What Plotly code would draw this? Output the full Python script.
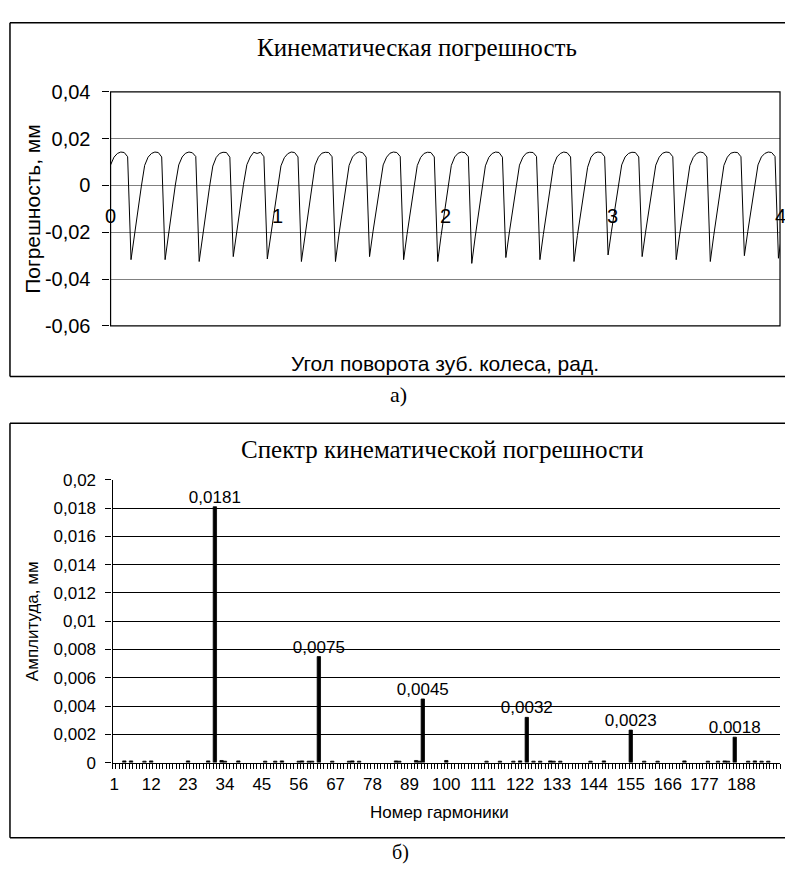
import plotly.graph_objects as go

# ---------------- data ----------------
# Kinematic error (mm), sampled along the gear rotation angle
angle_step = 0.02036  # rad between samples
kin_error = [
    0.0088, 0.0121, 0.0137, 0.0143, 0.0141, 0.0123,
    -0.0317, -0.0210, -0.0112, -0.0006, 0.0086, 0.0121, 0.0137, 0.0143, 0.0141, 0.0122,
    -0.0317, -0.0208, -0.0105, 0.0002, 0.0088, 0.0122, 0.0138, 0.0143, 0.0140, 0.0124,
    -0.0325, -0.0215, -0.0118, -0.0010, 0.0083, 0.0120, 0.0137, 0.0142, 0.0141, 0.0121,
    -0.0304, -0.0200, -0.0100, 0.0004, 0.0089, 0.0122, 0.0142, 0.0137, 0.0142, 0.0123,
    -0.0314, -0.0207, -0.0110, -0.0015, 0.0084, 0.0119, 0.0136, 0.0143, 0.0141, 0.0122,
    -0.0325, -0.0218, -0.0115, -0.0004, 0.0087, 0.0121, 0.0138, 0.0142, 0.0141, 0.0123,
    -0.0325, -0.0212, -0.0109, -0.0002, 0.0086, 0.0122, 0.0137, 0.0144, 0.0140, 0.0121,
    -0.0304, -0.0198, -0.0103, 0.0003, 0.0088, 0.0121, 0.0138, 0.0143, 0.0141, 0.0124,
    -0.0317, -0.0209, -0.0111, -0.0005, 0.0085, 0.0120, 0.0137, 0.0142, 0.0141, 0.0122,
    -0.0325, -0.0214, -0.0114, -0.0006, 0.0086, 0.0122, 0.0138, 0.0143, 0.0140, 0.0123,
    -0.0333, -0.0220, -0.0120, -0.0008, 0.0084, 0.0120, 0.0137, 0.0143, 0.0141, 0.0121,
    -0.0308, -0.0203, -0.0104, 0.0001, 0.0087, 0.0121, 0.0138, 0.0142, 0.0141, 0.0124,
    -0.0317, -0.0210, -0.0110, -0.0004, 0.0086, 0.0122, 0.0137, 0.0143, 0.0140, 0.0122,
    -0.0325, -0.0214, -0.0113, -0.0007, 0.0078, 0.0121, 0.0138, 0.0143, 0.0141, 0.0123,
    -0.0297, -0.0195, -0.0098, 0.0003, 0.0088, 0.0122, 0.0137, 0.0142, 0.0141, 0.0122,
    -0.0304, -0.0200, -0.0102, 0.0002, 0.0087, 0.0121, 0.0138, 0.0143, 0.0141, 0.0123,
    -0.0317, -0.0211, -0.0111, -0.0005, 0.0085, 0.0120, 0.0137, 0.0143, 0.0140, 0.0122,
    -0.0325, -0.0215, -0.0116, -0.0007, 0.0086, 0.0121, 0.0138, 0.0142, 0.0141, 0.0123,
    -0.0300, -0.0197, -0.0100, 0.0004, 0.0088, 0.0122, 0.0137, 0.0143, 0.0141, 0.0124,
    -0.0311, -0.0205,
]
angle = [i * angle_step for i in range(len(kin_error))]

err_tickvals = [-0.06, -0.04, -0.02, 0, 0.02, 0.04]
err_ticktext = ["-0,06", "-0,04", "-0,02", "0", "0,02", "0,04"]
angle_ticks = [0, 1, 2, 3, 4]

# Spectrum (mm) by harmonic number
spike_harmonics = [31, 62, 93, 124, 155, 186]
spike_amplitudes = [0.0181, 0.0075, 0.0045, 0.0032, 0.0023, 0.0018]
minor_harmonics = [4, 6, 10, 12, 23, 29, 33, 34, 38, 46, 49, 51, 56, 57, 59, 60,
                   66, 71, 72, 74, 85, 86, 91, 92, 100, 112, 116, 120, 122, 126,
                   128, 131, 132, 134, 143, 147, 159, 163, 171, 178, 181, 183,
                   184, 190, 192, 194, 196]
minor_amplitudes = [0.00012, 0.00012, 0.0001, 0.00012, 0.00012, 0.00012, 0.00015,
                    0.0001, 0.00012, 0.0001, 0.0001, 0.00012, 0.0001, 0.00012,
                    0.0001, 0.0001, 0.0001, 0.0001, 0.00012, 0.0001, 0.00012,
                    0.0001, 0.00015, 0.0001, 0.00015, 0.0001, 0.0001, 0.0001,
                    0.00012, 0.0001, 0.0001, 0.00012, 0.0001, 0.0001, 0.0001,
                    0.00012, 0.0001, 0.0001, 0.00012, 0.0001, 0.0001, 0.00012,
                    0.0001, 0.0001, 0.00012, 0.0001, 0.0001]
harmonic_ticks = [1, 12, 23, 34, 45, 56, 67, 78, 89, 100, 111, 122, 133, 144,
                  155, 166, 177, 188, 199]
amp_ticks = [0, 0.002, 0.004, 0.006, 0.008, 0.01, 0.012, 0.014, 0.016, 0.018, 0.02]

# ---------------- layout helpers ----------------
W, H = 785, 874
def px(x):
    return x / W
def py(y):
    return 1 - y / H

SANS = "Liberation Sans, Arial, sans-serif"
SERIF = "Liberation Serif, Times New Roman, serif"

top_ydom = [py(323), py(83)]
top_xdom = [px(108), px(780)]
bot_ydom = [py(771), py(481)]
bot_xdom = [px(110), px(780)]
err_range = [-0.06, 0.04]
zero_pos = top_ydom[0] + (0 - err_range[0]) / (err_range[1] - err_range[0]) * (top_ydom[1] - top_ydom[0])

fig = go.Figure()

fig.add_trace(go.Scatter(
    x=angle, y=kin_error, mode="lines",
    line=dict(color="black", width=1),
    xaxis="x", yaxis="y", hoverinfo="skip",
))

def fmt(v):
    return f"{v:.4f}".replace(".", ",")

fig.add_trace(go.Bar(
    x=spike_harmonics, y=spike_amplitudes,
    text=[fmt(v) for v in spike_amplitudes],
    textposition="outside", constraintext="none", cliponaxis=False,
    textfont=dict(family=SANS, size=17, color="black"),
    marker=dict(color="black", line=dict(color="black", width=0.8)),
    width=1.0, xaxis="x2", yaxis="y2",
))
fig.add_trace(go.Bar(
    x=minor_harmonics, y=minor_amplitudes,
    marker=dict(color="black", line=dict(color="black", width=0.8)),
    width=1.0, xaxis="x2", yaxis="y2",
))

# Outer frames: their right side lies beyond the picture, so only draw top, left, bottom
FRAME = dict(color="black", width=1.5)
def hline(x0, x1, y):
    return dict(type="line", xref="paper", yref="paper", x0=px(x0), x1=px(x1),
                y0=py(y), y1=py(y), line=FRAME, layer="above")
def vline(x, y0, y1):
    return dict(type="line", xref="paper", yref="paper", x0=px(x), x1=px(x),
                y0=py(y0), y1=py(y1), line=FRAME, layer="above")

shapes = [
    hline(7, 785, 12), hline(7, 785, 375), vline(7, 12, 375),
    hline(7, 785, 423), hline(7, 785, 848), vline(7, 423, 848),
    dict(type="rect", xref="x domain", yref="y domain", x0=0, x1=1, y0=0, y1=1,
         line=dict(color="black", width=1.2), layer="above"),
]

def ann(text, x, y, size, family, angle=0):
    return dict(text=text, x=px(x), y=py(y), xref="paper", yref="paper",
                xanchor="center", yanchor="middle", showarrow=False,
                textangle=angle, font=dict(family=family, size=size, color="black"))

annotations = [
    ann("Кинематическая погрешность", 416, 37, 25, SERIF),
    ann("Погрешность, мм", 30, 203, 21, SANS, -90),
    ann("Угол поворота зуб. колеса, рад.", 444, 362, 21, SANS),
    ann("а)", 397, 393, 22, SERIF),
    ann("Спектр кинематической погрешности", 441, 450, 25, SERIF),
    ann("Амплитуда, мм", 29, 626, 17, SANS, -90),
    ann("Номер гармоники", 438, 822, 17, SANS),
    ann("б)", 399, 863, 20, SERIF),
]
# Angle tick labels sit just below the zero line (axis crosses at 0)
for t in angle_ticks:
    annotations.append(dict(
        text=str(t), x=t, y=0, xref="x", yref="y", xanchor="center", yanchor="middle",
        yshift=-31, showarrow=False, borderpad=0,
        font=dict(family=SANS, size=20, color="black"),
    ))

fig.update_layout(
    width=W, height=H, margin=dict(l=0, r=0, t=0, b=0),
    paper_bgcolor="white", plot_bgcolor="white",
    showlegend=False, barmode="overlay", separators=", ",
    font=dict(family=SANS, color="black"),
    shapes=shapes, annotations=annotations,
    xaxis=dict(domain=top_xdom, anchor="free", position=zero_pos, range=[0, 4],
               showticklabels=False, ticks="", showgrid=False,
               showline=False, zeroline=False),
    yaxis=dict(domain=top_ydom, anchor="x", range=err_range,
               tickmode="array", tickvals=err_tickvals, ticktext=err_ticktext,
               ticks="outside", ticklen=7, tickcolor="black", tickwidth=1,
               showgrid=True, gridcolor="#808080", gridwidth=1, zeroline=False,
               showline=True, linecolor="black", linewidth=1.2, ticklabelstandoff=8,
               tickfont=dict(family=SANS, size=20, color="black")),
    xaxis2=dict(domain=bot_xdom, anchor="y2", range=[0.5, 199.5],
                tickmode="array", tickvals=harmonic_ticks,
                ticktext=[str(t) for t in harmonic_ticks], ticks="",
                minor=dict(tickmode="linear", tick0=0.5, dtick=1, ticks="outside",
                           ticklen=5, tickcolor="black", tickwidth=1, showgrid=False),
                showgrid=False, zeroline=False, showline=True, linecolor="black",
                linewidth=1.2, ticklabelstandoff=6,
                tickfont=dict(family=SANS, size=17, color="black")),
    yaxis2=dict(domain=bot_ydom, anchor="x2", range=[0, 0.02],
                tickmode="array", tickvals=amp_ticks,
                ticks="outside", ticklen=6, tickcolor="black", tickwidth=1,
                showgrid=True, gridcolor="black", gridwidth=1, zeroline=False,
                showline=True, linecolor="black", linewidth=1.2, ticklabelstandoff=6,
                tickfont=dict(family=SANS, size=17, color="black")),
)

post = (
    "var de=document.documentElement;de.style.margin='0';de.style.padding='0';"
    "de.style.overflow='hidden';"
    "document.body.style.margin='0';document.body.style.padding='0';"
    "document.body.style.overflow='hidden';"
    "var gds=document.getElementsByClassName('plotly-graph-div');"
    "for(var i=0;i<gds.length;i++){gds[i].style.overflow='hidden';}"
)

fig.write_html("out.html", post_script=post)
